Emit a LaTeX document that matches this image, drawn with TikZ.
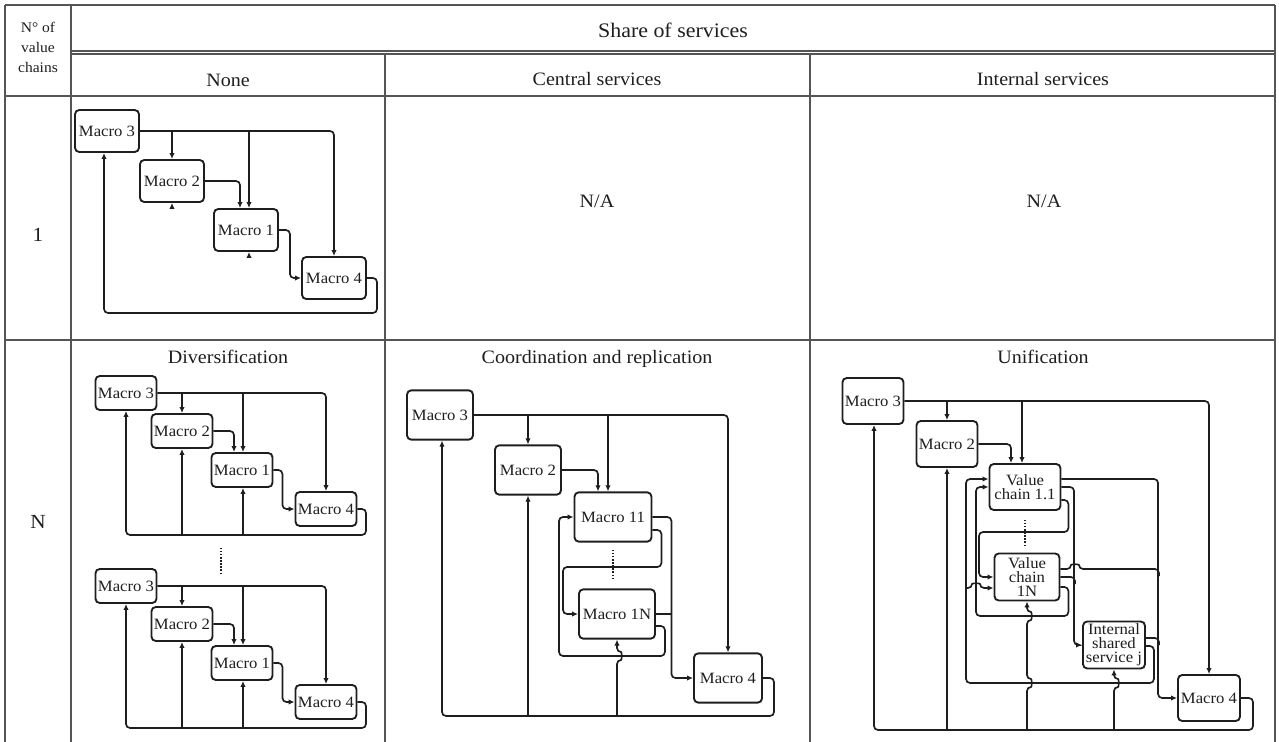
\documentclass[tikz,border=0pt]{standalone}
\usepackage{fontspec}
\setmainfont{Liberation Serif}[FakeStretch=1.06]
\usetikzlibrary{arrows.meta,calc}
\definecolor{ink}{HTML}{1E1E1E}
\definecolor{rulegray}{HTML}{555555}

\tikzset{
  cellbox/.style={draw=ink, line width=1.4pt, rounded corners=3.2pt, fill=white,
    align=center, inner sep=0pt, text=ink, font=\fontsize{11.8}{10.5}\selectfont},
  bone/.style={cellbox, minimum width=48pt, minimum height=31.5pt},
  bdiv/.style={cellbox, minimum width=45.75pt, minimum height=25.5pt},
  bcoord/.style={cellbox, minimum height=37pt},
  buni/.style={cellbox, minimum height=34.5pt},
  wire/.style={draw=ink, line width=1.25pt, rounded corners=3pt},
  arr/.style={wire, -{Latex[length=4.5pt,width=4pt]}},
  tline/.style={draw=rulegray, line width=1.1pt},
  dotline/.style={draw=ink, line width=1.3pt, dash pattern=on 1pt off 1.3pt},
  headtxt/.style={text=ink, font=\fontsize{14.2}{16}\selectfont, text height=10pt, text depth=3pt},
  vhop/.style args={#1/#2}{insert path={-- (#1,#2+4) .. controls (#1+5,#2+4) and (#1+5,#2-4) .. (#1,#2-4)}},
  hhop/.style args={#1/#2}{insert path={-- (#1-4,#2) .. controls (#1-4,#2-5) and (#1+4,#2-5) .. (#1+4,#2)}},
}

% one chain of four macros for the diversification cell
% #1 name prefix, #2 vertical offset
\newcommand\divcopy[2]{%
  \node[bdiv] (#1m3) at (126,393+#2) {Macro 3};
  \node[bdiv] (#1m2) at (182,431+#2) {Macro 2};
  \node[bdiv] (#1m1) at (242,470+#2) {Macro 1};
  \node[bdiv] (#1m4) at (326,509+#2) {Macro 4};
  \coordinate (#1in) at ($(#1m1.north)+(-8,0)$);
  \coordinate (#1jn) at ($(#1m1.north)+(1,0)$);
  \coordinate (#1bot) at (366,535+#2);
  \draw[arr] (#1m3.east) -| (#1m4.north);
  \draw[arr] (#1m3.east -| #1m2.north) -- (#1m2.north);
  \draw[arr] (#1m3.east -| #1jn) -- (#1jn);
  \draw[arr] (#1m2.east) -| (#1in);
  \draw[arr] (#1m1.east) -- ++(9,0) |- (#1m4.west);
  \draw[arr] (#1m4.east) -| (#1bot) -| (#1m3.south);
  \draw[arr] (#1m2.south |- #1bot) -- (#1m2.south);
  \draw[arr] (#1jn |- #1bot) -- ($(#1m1.south)+(1,0)$);
}

\begin{document}
\begin{tikzpicture}[x=0.75pt,y=-0.75pt]
\useasboundingbox (0,0) rectangle (1279,742);

% ---------- table grid ----------
\draw[tline] (5,5) -- (1275,5);
\draw[tline] (5,5) -- (5,742);
\draw[tline] (1275,5) -- (1275,742);
\draw[tline] (71,5) -- (71,742);
\draw[tline] (71,51) -- (1275,51);
\draw[tline] (71,54) -- (1275,54);
\draw[tline] (5,96) -- (1275,96);
\draw[tline] (5,340) -- (1275,340);
\draw[tline] (385,54) -- (385,742);
\draw[tline] (810,54) -- (810,742);

% ---------- headings ----------
\node[text=ink, align=center, font=\fontsize{11}{15}\selectfont] (nvc) at (38,47) {N° of\\value\\chains};
\node[text=ink, font=\fontsize{15.5}{18}\selectfont, text height=11pt, text depth=3pt] (share) at (673,32) {Share of services};
\node[headtxt] (hnone) at (228,82) {None};
\node[headtxt] (hcentral) at (597,81) {Central services};
\node[headtxt] (hinternal) at (1043,81) {Internal services};
\node[headtxt, font=\fontsize{15}{18}\selectfont] (rone) at (38,237) {1};
\node[headtxt, font=\fontsize{15}{18}\selectfont] (rN) at (38,524) {N};
\node[headtxt] (na1) at (597,203) {N/A};
\node[headtxt] (na2) at (1044,203) {N/A};
\node[headtxt] (tdiv) at (228,359) {Diversification};
\node[headtxt] (tcoord) at (597,359) {Coordination and replication};
\node[headtxt] (tunif) at (1043,359) {Unification};

% ---------- one value chain, no shared services ----------
\node[bone] (a3) at (107,131) {Macro 3};
\node[bone] (a2) at (172,181) {Macro 2};
\node[bone] (a1) at (246,230) {Macro 1};
\node[bone] (a4) at (334,278) {Macro 4};
\coordinate (a1in) at ($(a1.north)+(-6,0)$);
\coordinate (a1jn) at ($(a1.north)+(3,0)$);
\coordinate (a3in) at ($(a3.south)+(-3,0)$);
\coordinate (aret) at (377,313);
\draw[arr] (a3.east) -| (a4.north);
\draw[arr] (a3.east -| a2.north) -- (a2.north);
\draw[arr] (a3.east -| a1jn) -- (a1jn);
\draw[arr] (a2.east) -| (a1in);
\draw[arr] (a1.east) -- ++(11,0) |- (a4.west);
\draw[arr] (a4.east) -| (aret) -| (a3in);
\draw[arr] ($(a2.south)+(0,6)$) -- (a2.south);
\draw[arr] ($(a1jn |- a1.south)+(0,6)$) -- (a1jn |- a1.south);

% ---------- diversification ----------
\divcopy{p}{0}
\divcopy{q}{193}
\draw[dotline] (221,548) -- (221,575);

% ---------- coordination and replication ----------
\node[bcoord, minimum width=49.5pt] (c3) at (440,415) {Macro 3};
\node[bcoord, minimum width=49.5pt] (c2) at (528,470) {Macro 2};
\node[bcoord, minimum width=57.75pt] (c11) at (613,517) {Macro 11};
\node[bcoord, minimum width=57pt] (c1N) at (617,614) {Macro 1N};
\node[bcoord, minimum width=51pt] (c4) at (728,678) {Macro 4};
\coordinate (c11a) at ($(c11.north)+(-15,0)$);
\coordinate (c11b) at ($(c11.north)+(-5,0)$);
\coordinate (cbot) at (774,716);
\draw[arr] (c3.east) -| (c4.north);
\draw[arr] (c3.east -| c2.north) -- (c2.north);
\draw[arr] (c3.east -| c11b) -- (c11b);
\draw[arr] (c2.east) -| (c11a);
\draw[arr] (c11.east) -- ++(19,0) |- (c4.west);
\draw[wire] (c1N.east) -- ++(16,0);
\draw[arr] ($(c11.east)+(0,13)$) -- ++(9,0) |- (563,567) |- (c1N.west);
\draw[arr] ($(c1N.east)+(0,12)$) -- ++(9,0) |- (559,656) |- (c11.west);
\draw[arr] (c4.east) -| (cbot) -| ($(c3.south)+(2,0)$);
\draw[arr] (c2.south |- cbot) -- (c2.south);
\draw[arr] (c1N.south |- cbot) [vhop=617/656] -- (c1N.south);
\draw[dotline] (613,550) -- (613,578);

% ---------- unification ----------
\node[buni, minimum width=45.75pt] (u3) at (873,401) {Macro 3};
\node[buni, minimum width=45.75pt] (u2) at (947,444) {Macro 2};
\node[buni, minimum width=53.25pt] (v1) at (1025,487) {Value\\chain 1.1};
\node[buni, minimum width=48.75pt, minimum height=35.25pt] (vN) at (1027,577) {Value\\chain\\1N};
\node[buni, minimum width=46.5pt, minimum height=35.25pt] (s) at (1114,645) {Internal\\shared\\service j};
\node[buni, minimum width=46.5pt] (u4) at (1209,698) {Macro 4};
\coordinate (v1a) at ($(v1.north)+(-14,0)$);
\coordinate (v1b) at ($(v1.north)+(-3,0)$);
\coordinate (ubot) at (1253,730);
\coordinate (ujoin) at (966,588);
\draw[arr] (u3.east) -| (u4.north);
\draw[arr] (u3.east -| u2.north) -- (u2.north);
\draw[arr] (u3.east -| v1b) -- (v1b);
\draw[arr] (u2.east) -| (v1a);
% outputs towards Macro 4
\draw[arr] ($(v1.east)+(0,-8)$) -| ($(u4.west)+(-19,0)$) -- (u4.west);
\draw[wire] ($(vN.east)+(0,-8)$) [hhop=1075/569] -| (1159,576);
\draw[wire] ($(s.east)+(0,-7)$) -| (1159,645);
% outputs towards the internal shared service
\draw[arr] (v1.east) -| ($(s.west)+(-8,0)$) -- (s.west);
\draw[wire] (vN.east) -| (1075,584);
% loops between the value chains
\draw[arr] ($(v1.east)+(0,13)$) -- ++(7,0) |- (979,532) |- (vN.west);
\draw[arr] ($(vN.east)+(0,10)$) -- ++(8,0) |- (976,616) |- (v1.west);
% shared service back to the value chains
\draw[arr] ($(s.east)+(0,1)$) -- ++(8,0) |- (966,683) |- ($(v1.west)+(0,-8)$);
\draw[arr] (ujoin) [hhop=976/588] -- ($(vN.west)+(0,11)$);
% feedback from Macro 4
\draw[arr] (u4.east) -| (ubot) -| ($(u3.south)+(1,0)$);
\draw[arr] (u2.south |- ubot) -- (u2.south);
\draw[arr] (vN.south |- ubot) [vhop=1027/683] [vhop=1027/616] -- (vN.south);
\draw[arr] (s.south |- ubot) [vhop=1114/683] -- (s.south);
\draw[dotline] (1025,520) -- (1025,547);

\end{tikzpicture}
\end{document}
